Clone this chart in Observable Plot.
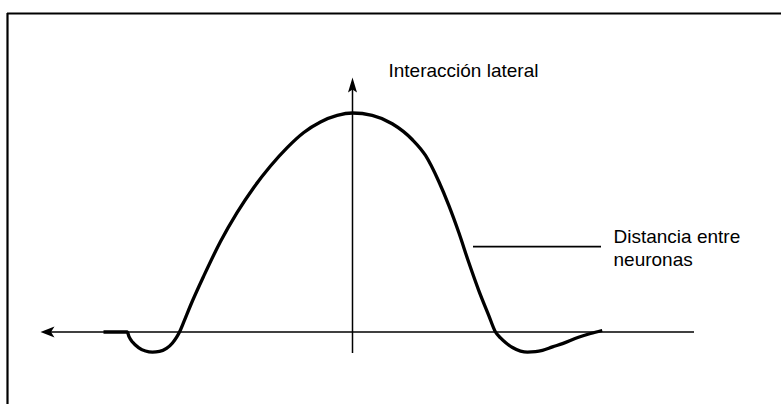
<!DOCTYPE html>
<html>
<head>
<meta charset="utf-8">
<script src="https://cdn.jsdelivr.net/npm/d3@7"></script>
<script src="https://cdn.jsdelivr.net/npm/@observablehq/plot@0.6"></script>
<style>
  html, body { margin: 0; padding: 0; background: #fff; }
  #chart svg { display: block; }
</style>
</head>
<body>
<div id="chart"></div>
<script>
// Distance between neurons (0 = the neuron itself) and lateral interaction (peak = 1)
const distance = [-4.98, -4.506, -4.47, -4.40, -4.28, -4.14, -4.00, -3.86, -3.72, -3.60, -3.52, -3.46, -3.374, -3.24, -2.974, -2.64, -2.306, -1.974, -1.64, -1.306, -0.974, -0.64, -0.306, 0,
  0.394, 0.794, 1.194, 1.46, 1.726, 1.926, 2.126, 2.326, 2.526, 2.726, 2.86, 2.96, 3.06, 3.20, 3.36, 3.50, 3.66, 3.80, 4.00, 4.20, 4.52, 4.76, 4.994];
const interaction = [0, 0, -0.021, -0.046, -0.071, -0.087, -0.092, -0.089, -0.075, -0.050, -0.025, 0, 0.046, 0.121, 0.256, 0.413, 0.546, 0.660, 0.758, 0.842, 0.911, 0.959, 0.989, 1.0,
  0.989, 0.951, 0.879, 0.806, 0.687, 0.578, 0.454, 0.317, 0.189, 0.075, 0, -0.027, -0.048, -0.071, -0.087, -0.092, -0.090, -0.084, -0.068, -0.053, -0.024, -0.007, 0.007];

// Axis extents (data units)
const xAxisExtent = [6.84, -6.24];   // drawn from right end to the arrow tip on the left
const yAxisExtent = [-0.098, 1.162]; // drawn from bottom to the arrow tip at the top

// Texts
const yLabel = "Interacción lateral";
const xLabel = "Distancia entre\nneuronas";

// ---- layout ----
const W = 781, H = 404;
const xDomain = [-7.04, 8.58];
const yDomain = [-0.3311, 1.5137];
const frameTop = 1.4543, frameLeft = -6.9;

const curve = distance.map((d, i) => ({d, v: interaction[i]}));

const arrowLeft = { draw(ctx) { ctx.moveTo(0, 0); ctx.lineTo(14, -5.5); ctx.lineTo(10.5, 0); ctx.lineTo(14, 5.5); ctx.closePath(); } };
const arrowUp = { draw(ctx) { ctx.moveTo(0, 0); ctx.lineTo(-4.5, 15); ctx.lineTo(0, 12); ctx.lineTo(4.5, 15); ctx.closePath(); } };

const chart = Plot.plot({
  width: W,
  height: H,
  margin: 0,
  x: { domain: xDomain, axis: null },
  y: { domain: yDomain, axis: null },
  style: { background: "#fff", fontFamily: "'Liberation Sans', Arial, sans-serif", color: "#000" },
  marks: [
    // frame border (top and left)
    Plot.ruleY([frameTop], { x1: frameLeft, x2: xDomain[1], stroke: "#000", strokeWidth: 2.2 }),
    Plot.ruleX([frameLeft], { y1: frameTop, y2: yDomain[0], stroke: "#000", strokeWidth: 2.2 }),
    // axes
    Plot.ruleY([0], { x1: xAxisExtent[0], x2: xAxisExtent[1] + 0.2, stroke: "#000", strokeWidth: 1.5 }),
    Plot.ruleX([0], { y1: yAxisExtent[0], y2: yAxisExtent[1] - 0.05, stroke: "#000", strokeWidth: 1.5 }),
    Plot.dot([{x: xAxisExtent[1], y: 0}], { x: "x", y: "y", symbol: arrowLeft, fill: "#000", stroke: null, r: 5 }),
    Plot.dot([{x: 0, y: yAxisExtent[1]}], { x: "x", y: "y", symbol: arrowUp, fill: "#000", stroke: null, r: 5 }),
    // interaction curve
    Plot.line(curve, { x: "d", y: "v", curve: "monotone-x", stroke: "#000", strokeWidth: 3.3, strokeLinejoin: "round", strokeLinecap: "butt" }),
    // pointer line for the distance label
    Plot.ruleY([0.390], { x1: 2.42, x2: 4.98, stroke: "#000", strokeWidth: 1.6 }),
    // labels
    Plot.text([yLabel], { x: 0.72, y: 1.194, text: d => d, textAnchor: "start", fontSize: 19, fill: "#000" }),
    Plot.text([xLabel], { x: 5.22, y: 0.4795, text: d => d, textAnchor: "start", lineAnchor: "top", lineHeight: 1.2, fontSize: 19, fill: "#000" })
  ]
});
document.getElementById("chart").appendChild(chart);
</script>
</body>
</html>
